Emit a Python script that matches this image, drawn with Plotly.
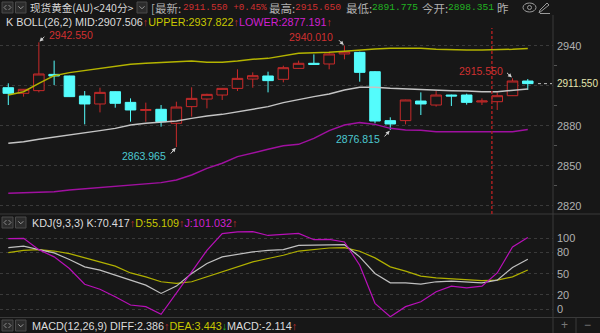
import plotly.graph_objects as go

# ---------------- data ----------------
idx = list(range(35))
opens = [2908.5, 2904.3, 2906.3, 2918.5, 2917.3, 2902.3, 2896.3, 2905.5, 2897.5, 2891.5,
         2892.3, 2881.8, 2894.3, 2900.0, 2903.0, 2908.0, 2915.0, 2917.3, 2914.8, 2923.0,
         2926.8, 2926.3, 2933.8, 2935.0, 2920.5, 2883.8, 2883.8, 2898.5, 2895.5, 2903.0,
         2903.0, 2897.8, 2898.0, 2902.5, 2913.5]
highs = [2911.8, 2907.5, 2942.55, 2928.8, 2917.5, 2906.0, 2908.5, 2905.8, 2900.5, 2897.3,
         2895.5, 2898.0, 2908.8, 2904.0, 2908.3, 2922.3, 2920.0, 2920.5, 2925.0, 2928.8,
         2933.5, 2935.5, 2940.01, 2935.5, 2921.0, 2886.3, 2899.5, 2905.0, 2906.0, 2903.3,
         2904.0, 2900.5, 2905.0, 2915.55, 2915.0]
lows = [2895.5, 2901.8, 2905.0, 2910.5, 2901.5, 2881.0, 2890.0, 2893.5, 2883.0, 2883.0,
        2879.3, 2863.965, 2886.8, 2893.0, 2899.3, 2906.0, 2908.5, 2905.0, 2912.5, 2922.8,
        2925.8, 2922.3, 2929.8, 2913.0, 2881.8, 2876.815, 2881.0, 2888.0, 2894.3, 2894.8,
        2895.8, 2895.5, 2891.8, 2902.3, 2906.8]
closes = [2904.3, 2907.3, 2918.8, 2917.3, 2901.8, 2896.3, 2905.0, 2896.8, 2891.8, 2892.0,
          2883.0, 2894.0, 2900.5, 2903.5, 2908.0, 2915.5, 2917.5, 2913.8, 2923.5, 2926.8,
          2926.0, 2933.8, 2935.5, 2920.0, 2883.5, 2881.3, 2899.3, 2896.3, 2903.0, 2902.3,
          2897.5, 2898.5, 2902.5, 2913.5, 2911.55]

boll_upper = [2903.0, 2905.5, 2911.8, 2917.5, 2919.8, 2921.3, 2923.0, 2924.3, 2926.0, 2926.8,
              2927.3, 2927.5, 2928.5, 2927.5, 2927.5, 2928.5, 2929.8, 2930.5, 2932.3, 2934.3,
              2934.8, 2935.0, 2935.8, 2936.8, 2937.5, 2938.0, 2938.0, 2938.0, 2937.3, 2936.8,
              2936.8, 2936.8, 2936.8, 2937.3, 2937.822]
boll_mid = [2866.8, 2868.0, 2869.8, 2871.3, 2873.0, 2874.8, 2876.3, 2878.0, 2880.5, 2881.8,
            2882.5, 2883.5, 2885.5, 2887.3, 2888.5, 2890.5, 2892.5, 2894.3, 2897.3, 2899.8,
            2901.8, 2903.8, 2906.8, 2908.8, 2908.8, 2908.0, 2907.5, 2907.3, 2906.8, 2906.3,
            2906.1, 2905.5, 2905.5, 2906.3, 2907.506]
boll_lower = [2829.3, 2829.8, 2830.0, 2830.5, 2831.8, 2832.8, 2833.5, 2834.5, 2835.3, 2836.3,
              2837.3, 2839.3, 2843.0, 2848.0, 2851.8, 2856.8, 2859.3, 2862.3, 2865.0, 2866.0,
              2870.5, 2876.3, 2880.5, 2882.3, 2881.0, 2878.0, 2876.8, 2876.5, 2875.5, 2875.5,
              2875.0, 2875.0, 2875.0, 2875.5, 2877.191]

kdj_k = [86.8, 89.0, 84.0, 79.3, 70.0, 59.6, 55.0, 47.9, 40.8, 33.8,
         22.0, 32.4, 50.2, 64.3, 73.7, 77.5, 80.8, 83.0, 84.0, 90.0,
         90.5, 91.5, 91.0, 73.7, 50.2, 37.0, 37.0, 35.2, 38.5, 39.4,
         38.5, 37.0, 40.8, 58.7, 70.417]
kdj_d = [79.8, 83.0, 84.0, 82.0, 78.4, 72.3, 66.6, 60.6, 51.0, 45.5,
         38.5, 36.2, 38.5, 45.5, 52.5, 59.6, 66.6, 71.4, 76.0, 82.0,
         84.5, 86.3, 86.8, 81.7, 72.3, 59.6, 53.5, 46.5, 44.0, 42.7,
         40.8, 40.0, 40.8, 45.5, 55.109]
kdj_j = [99.5, 100.0, 84.0, 73.7, 57.3, 35.0, 28.0, 17.4, 5.6, 3.3,
         -7.5, 22.0, 52.5, 83.0, 106.6, 109.0, 109.5, 104.0, 106.0, 107.0,
         98.0, 98.6, 94.8, 62.0, 8.0, -10.8, 3.3, 10.3, 24.4, 32.4,
         30.0, 32.4, 51.0, 87.7, 101.032]

price_ticks = [2940, 2910, 2880, 2850, 2820]
price_ticktext = ['2940', '', '2880', '2850', '2820']
kdj_ticks = [0, 20, 50, 80, 100]
last_price = 2911.55
cursor_x = 31.65

# extreme labels: (index, value, text, colour key)
extremes = [(2, 2942.55, '2942.550', 'hi'), (22, 2940.01, '2940.010', 'hi'),
            (33, 2915.55, '2915.550', 'hi'), (11, 2863.965, '2863.965', 'lo'),
            (25, 2876.815, '2876.815', 'lo')]

# ---------------- style ----------------
W, H = 600, 333
MR = 47
PW = W - MR

def px(x):
    return x / PW

def py(y):
    return 1 - y / H

BG = '#171717'
RED = '#d03030'
CRED = '#c82a2a'
CYAN = '#54fcfc'
GREEN = '#22b422'
YEL = '#c8c800'
MAG = '#d020d0'
TXT = '#dcdcdc'
GRAY = '#b0b0b0'
GRID = '#3a3a3a'
SEP = '#3a3a3a'
SANS = 'Liberation Sans, Arial, sans-serif'
MONO = 'Liberation Mono, DejaVu Sans Mono, monospace'
CJK = 'Noto Sans CJK SC, sans-serif'

fig = go.Figure()

fig.add_trace(go.Candlestick(
    x=idx, open=opens, high=highs, low=lows, close=closes,
    xaxis='x', yaxis='y', whiskerwidth=0, hoverinfo='skip', showlegend=False,
    increasing=dict(line=dict(color=CRED, width=1), fillcolor=BG),
    decreasing=dict(line=dict(color=CYAN, width=1), fillcolor=CYAN)))

for vals, col in [(boll_upper, '#b4b400'), (boll_mid, '#c4c4c4'), (boll_lower, '#a010a0')]:
    fig.add_trace(go.Scatter(x=idx, y=vals, mode='lines', line=dict(color=col, width=1.5),
                             xaxis='x', yaxis='y', hoverinfo='skip', showlegend=False))

for vals, col in [(kdj_d, '#b0b000'), (kdj_k, '#c0c0c0'), (kdj_j, '#b810b8')]:
    fig.add_trace(go.Scatter(x=idx, y=vals, mode='lines', line=dict(color=col, width=1.2),
                             xaxis='x2', yaxis='y2', hoverinfo='skip', showlegend=False))

XR = [-0.543, 35.65]
main_top, main_bot = 16, 214
kdj_top, kdj_bot = 214, 317.5
main_range = [2940 - (main_bot - 45.7) * 0.75, 2940 + (45.7 - main_top) * 0.75]
kdj_range = [-(kdj_bot - 309) / 0.707, (309 - kdj_top) / 0.707]

axis_font = dict(family=SANS, size=11, color=GRAY)

fig.update_layout(
    width=W, height=H, autosize=False,
    margin=dict(l=0, r=MR, t=0, b=0, pad=0),
    paper_bgcolor=BG, plot_bgcolor=BG,
    showlegend=False, hovermode=False,
    boxgap=0.31, boxgroupgap=0,
    xaxis=dict(domain=[0, 1], range=XR, visible=False, anchor='y',
               rangeslider=dict(visible=False)),
    yaxis=dict(domain=[py(main_bot), py(main_top)], range=main_range, side='right',
               tickvals=price_ticks, ticktext=price_ticktext, tickfont=axis_font,
               showgrid=True, gridcolor=GRID, griddash='dot', gridwidth=1,
               zeroline=False, showline=False, ticks='', ticklabelstandoff=3,
               minor=dict(tickvals=[2925, 2895, 2865, 2835], ticks='outside', ticklen=3,
                          tickcolor='#555555', showgrid=False),
               anchor='x'),
    xaxis2=dict(domain=[0, 1], range=XR, visible=False, anchor='y2'),
    yaxis2=dict(domain=[py(kdj_bot), py(kdj_top)], range=kdj_range, side='right',
                tickvals=kdj_ticks, tickfont=axis_font,
                showgrid=True, gridcolor=GRID, griddash='dot', gridwidth=1,
                zeroline=False, showline=False, ticks='', ticklabelstandoff=3,
                anchor='x2'),
)

shapes = []
def hline(y, x0=0, x1=W, color=SEP):
    shapes.append(dict(type='line', xref='paper', yref='paper', x0=px(x0), x1=px(x1),
                       y0=py(y), y1=py(y), line=dict(color=color, width=1)))

def vline(x, y0, y1, color=SEP):
    shapes.append(dict(type='line', xref='paper', yref='paper', x0=px(x), x1=px(x),
                       y0=py(y0), y1=py(y1), line=dict(color=color, width=1)))

hline(main_bot)
hline(kdj_bot)
vline(553, 15, 333)
vline(576, kdj_bot, 333)

# cursor dashed line
shapes.append(dict(type='line', xref='x', yref='paper', x0=cursor_x, x1=cursor_x,
                   y0=py(main_bot), y1=py(28), line=dict(color='#a82020', width=1.5, dash='3px,2px')))
# last price dotted
shapes.append(dict(type='line', xref='paper', yref='y', x0=px(538), x1=px(552),
                   y0=last_price, y1=last_price, line=dict(color='#bdbdbd', width=1, dash='dot')))

def box(x0, y0, x1, y1):
    shapes.append(dict(type='rect', xref='paper', yref='paper', x0=px(x0), x1=px(x1),
                       y0=py(y1), y1=py(y0), line=dict(color='#4a4a4a', width=1),
                       fillcolor='#2c2c2c'))

def chevron(cx, cy):
    path = 'M {} {} L {} {} L {} {}'.format(px(cx - 2.5), py(cy - 1.2), px(cx), py(cy + 1.3),
                                            px(cx + 2.5), py(cy - 1.2))
    shapes.append(dict(type='path', xref='paper', yref='paper', path=path,
                       line=dict(color='#9a9a9a', width=1)))

def arrows(cx, cy):
    for s in (-1, 1):
        path = 'M {} {} L {} {} L {} {}'.format(px(cx + s * 1), py(cy - 2.5), px(cx + s * 3.5),
                                                py(cy), px(cx + s * 1), py(cy + 2.5))
        shapes.append(dict(type='path', xref='paper', yref='paper', path=path,
                           line=dict(color='#8a8a8a', width=1)))

for (yy0, yy1) in [(2, 13), (217, 228), (320, 331)]:
    box(2, yy0, 13, yy1)
    arrows(7.5, (yy0 + yy1) / 2)
    box(15.5, yy0, 26, yy1)
    chevron(20.75, (yy0 + yy1) / 2)
box(137, 2, 147, 13)
chevron(142, 7.5)

# eye icon
shapes.append(dict(type='circle', xref='paper', yref='paper', x0=px(523), x1=px(536),
                   y0=py(12), y1=py(3), line=dict(color='#9a9a9a', width=1)))
shapes.append(dict(type='circle', xref='paper', yref='paper', x0=px(527.5), x1=px(531.5),
                   y0=py(9.5), y1=py(5.5), line=dict(color='#9a9a9a', width=1)))
# pencil icon
shapes.append(dict(type='path', xref='paper', yref='paper',
                   path='M {} {} L {} {} L {} {} L {} {} Z'.format(px(539), py(13), px(540), py(10),
                                                                 px(547), py(3), px(549), py(5)),
                   line=dict(color='#9a9a9a', width=1)))
shapes.append(dict(type='line', xref='paper', yref='paper', x0=px(540), x1=px(550),
                   y0=py(13.5), y1=py(13.5), line=dict(color='#9a9a9a', width=1)))

anns = []
def txt(x, y, text, color=TXT, family=SANS, size=11, anchor='left'):
    anns.append(dict(xref='paper', yref='paper', x=px(x), y=py(y), text=text, showarrow=False,
                     xanchor=anchor, yanchor='middle', borderpad=0,
                     font=dict(family=family, size=size, color=color)))

def sp(t, c):
    return "<span style='color:{}'>{}</span>".format(c, t)

# header line 1
txt(29, 7.7, '现货黄金(AU)&lt;240分&gt;', '#d8d8d8', CJK, 10.6)
txt(150, 7.7, '[最新:', GRAY, CJK, 11.5)
txt(182, 7.7, '2911.550 +0.45%', RED, MONO, 9.3)
txt(268, 7.7, '最高:', GRAY, CJK, 11.5)
txt(294, 7.7, '2915.650', RED, MONO, 9.6)
txt(345, 7.7, '最低:', GRAY, CJK, 11.5)
txt(371, 7.7, '2891.775', GREEN, MONO, 9.6)
txt(421, 7.7, '今开:', GRAY, CJK, 11.5)
txt(447, 7.7, '2898.351', GREEN, MONO, 9.6)
txt(496, 7.7, '昨', GRAY, CJK, 11.5)

up = sp('↑', RED)
txt(5, 22.5, 'K BOLL(26,2) MID:2907.506' + up + sp('UPPER:2937.822', YEL) + up +
    sp('LOWER:2877.191', MAG) + up, TXT, SANS, 10.8)
txt(31, 222.5, 'KDJ(9,3,3) K:70.417' + up + sp('D:55.109', YEL) + up + sp('J:101.032', MAG) + up,
    TXT, SANS, 10.8)
txt(31, 325.5, 'MACD(12,26,9) DIFF:2.386' + up + sp('DEA:3.443', YEL) + sp('↓', GREEN) +
    'MACD:-2.114' + up, TXT, SANS, 10.8)

txt(556, 83.3, '2911.550', '#e6e6b0', SANS, 10)
txt(564.5, 325, '+', '#777777', SANS, 12, 'center')
txt(588, 325, '−', '#777777', SANS, 12, 'center')

# extreme labels with arrows
label_offsets = {0: (9, 7), 1: (-10, 9), 2: (-9, 7.5), 3: (-9, -8.5), 4: (-9, -9.5)}
for k, (i, v, t, kind) in enumerate(extremes):
    dx, dy = label_offsets[k]
    col = RED if kind == 'hi' else '#4cc8d0'
    anns.append(dict(xref='x', yref='y', x=i, y=v, text=t, showarrow=False,
                     xanchor='left' if dx > 0 else 'right', yanchor='middle',
                     xshift=dx, yshift=dy, borderpad=0,
                     font=dict(family=SANS, size=10.5, color=col)))
    ax = 7 if dx > 0 else -7
    ay = -7 if kind == 'hi' else 8
    anns.append(dict(xref='x', yref='y', x=i, y=v, text='', showarrow=True,
                     ax=ax, ay=ay, arrowhead=2, arrowsize=0.8, arrowwidth=1,
                     arrowcolor='#d0d0d0', standoff=1))

fig.update_layout(shapes=shapes, annotations=anns)
fig.write_html('out.html', config={'displayModeBar': False})
